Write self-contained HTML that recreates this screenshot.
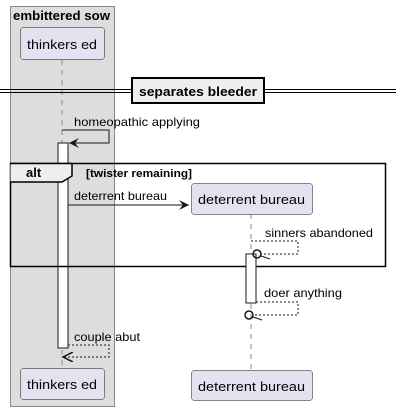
<!DOCTYPE html>
<html><head><style>body{margin:0;background:#fff}svg{display:block}text{font-family:"Liberation Sans",sans-serif;fill:#000}</style></head><body>
<svg width="400" height="412" viewBox="0 0 400 412" xmlns="http://www.w3.org/2000/svg">
<defs>
<marker id="a" markerWidth="12" markerHeight="10" refX="10" refY="5" orient="auto" markerUnits="userSpaceOnUse"><path d="M0,0 L10,5 L0,10 L4,5 Z" fill="#181818"/></marker>
<marker id="o" markerWidth="12" markerHeight="10" refX="10" refY="5" orient="auto" markerUnits="userSpaceOnUse"><path d="M0,0 L10,5 L0,10" fill="none" stroke="#181818" stroke-width="1.5"/></marker>
</defs>
<rect x="10.5" y="6.5" width="104" height="400" fill="#ddd" stroke="#888"/>
<text x="13" y="20" font-size="13" font-weight="bold" textLength="97" lengthAdjust="spacingAndGlyphs">embittered sow</text>
<line x1="62" y1="60" x2="62" y2="368" stroke="#888" stroke-dasharray="5,5"/>
<line x1="251" y1="214" x2="251" y2="370" stroke="#888" stroke-dasharray="5,5"/>
<rect x="20.5" y="27.5" width="84" height="32" rx="3" fill="#e2e2f0" stroke="#181818" stroke-width="0.5"/>
<text x="27" y="49" font-size="13" textLength="70" lengthAdjust="spacingAndGlyphs">thinkers ed</text>
<rect x="20.5" y="368.5" width="84" height="31" rx="3" fill="#e2e2f0" stroke="#181818" stroke-width="0.5"/>
<text x="27" y="389" font-size="13" textLength="70" lengthAdjust="spacingAndGlyphs">thinkers ed</text>
<rect x="191.5" y="370.5" width="121" height="30" rx="3" fill="#e2e2f0" stroke="#181818" stroke-width="0.5"/>
<text x="198" y="391" font-size="13" textLength="107" lengthAdjust="spacingAndGlyphs">deterrent bureau</text>
<line x1="0" y1="89.5" x2="396" y2="89.5" stroke="#000"/>
<line x1="0" y1="92.5" x2="396" y2="92.5" stroke="#000"/>
<rect x="132" y="78" width="132" height="25" fill="#eee" stroke="#000" stroke-width="2"/>
<text x="139" y="96" font-size="13" font-weight="bold" textLength="118" lengthAdjust="spacingAndGlyphs">separates bleeder</text>
<text x="74" y="126" font-size="12" textLength="126" lengthAdjust="spacingAndGlyphs">homeopathic applying</text>
<polyline points="62,130 109,130 109,143 69,143" fill="none" stroke="#181818" marker-end="url(#a)"/>
<rect x="58" y="143" width="10" height="205" fill="#fff" stroke="#181818"/>
<rect x="10.5" y="163.5" width="375" height="103" fill="none" stroke="#000" stroke-width="1.5"/>
<path d="M10.5,163.5 H72 V176 L62,182 H10.5" fill="#eee" stroke="#000" stroke-width="1.5"/>
<text x="26" y="177" font-size="13" font-weight="bold">alt</text>
<text x="86" y="177" font-size="11" font-weight="bold" textLength="106" lengthAdjust="spacingAndGlyphs">[twister remaining]</text>
<text x="74" y="200" font-size="12" textLength="93" lengthAdjust="spacingAndGlyphs">deterrent bureau</text>
<line x1="68" y1="205" x2="189" y2="205" stroke="#181818" marker-end="url(#a)"/>
<rect x="191.5" y="183.5" width="121" height="31" rx="3" fill="#e2e2f0" stroke="#181818" stroke-width="0.5"/>
<text x="198" y="204" font-size="13" textLength="107" lengthAdjust="spacingAndGlyphs">deterrent bureau</text>
<text x="265" y="237" font-size="12" textLength="108" lengthAdjust="spacingAndGlyphs">sinners abandoned</text>
<polyline points="251,241 298,241 298,254 261,254" fill="none" stroke="#181818" stroke-dasharray="2,2"/>
<rect x="246" y="254" width="10" height="49" fill="#fff" stroke="#181818"/>
<circle cx="257" cy="254" r="4" fill="none" stroke="#181818" stroke-width="1.5"/>
<line x1="261" y1="256" x2="270" y2="259" stroke="#181818"/>
<text x="264" y="297" font-size="12" textLength="78" lengthAdjust="spacingAndGlyphs">doer anything</text>
<polyline points="256,302 298,302 298,315 253,315" fill="none" stroke="#181818" stroke-dasharray="2,2"/>
<circle cx="249" cy="315" r="4" fill="none" stroke="#181818" stroke-width="1.5"/>
<line x1="253" y1="317" x2="262" y2="320" stroke="#181818"/>
<text x="74" y="341" font-size="12" textLength="66" lengthAdjust="spacingAndGlyphs">couple abut</text>
<polyline points="68,345 109,345 109,357 63,357" fill="none" stroke="#181818" stroke-dasharray="2,2" marker-end="url(#o)"/>
</svg>
</body></html>
